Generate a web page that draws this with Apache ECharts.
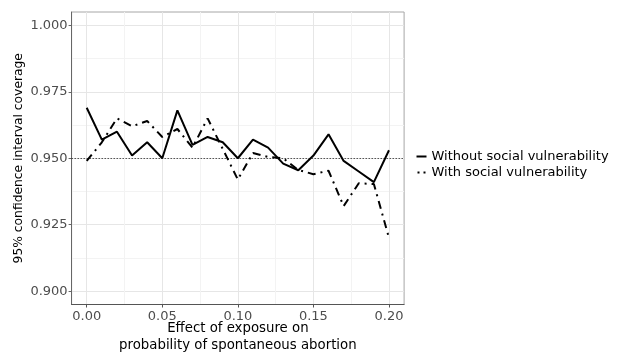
<!DOCTYPE html>
<html><head><meta charset="utf-8">
<script src="https://cdn.jsdelivr.net/npm/echarts@6/dist/echarts.min.js"></script>
<style>html,body{margin:0;padding:0;background:#fff}#c{width:619px;height:355px}</style>
</head><body><div id="c"></div>
<script>
const effect = [0.00,0.01,0.02,0.03,0.04,0.05,0.06,0.07,0.08,0.09,0.10,0.11,0.12,0.13,0.14,0.15,0.16,0.17,0.18,0.19,0.20];
const withoutSV = [0.969,0.957,0.960,0.951,0.956,0.950,0.968,0.955,0.958,0.956,0.950,0.957,0.954,0.948,0.9455,0.951,0.959,0.949,0.945,0.941,0.953];
const withSV = [0.949,0.956,0.965,0.962,0.964,0.958,0.961,0.954,0.965,0.9535,0.942,0.952,0.9505,0.950,0.9456,0.944,0.9453,0.932,0.9406,0.9403,0.920];
const xTicks = [0, 0.05, 0.10, 0.15, 0.20];
const xMinor = [0.025, 0.075, 0.125, 0.175];
const yTicks = [0.900, 0.925, 0.950, 0.975, 1.000];
const yMinor = [0.9125, 0.9375, 0.9625, 0.9875];
const reference = 0.95;
const names = ['Without social vulnerability', 'With social vulnerability'];

const font = 'DejaVu Sans';
const chart = echarts.init(document.getElementById('c'), null, {renderer: 'canvas'});
const pair = arr => effect.map((x, i) => [x, arr[i]]);

chart.setOption({
  animation: false,
  backgroundColor: '#fff',
  grid: {left: 71.6, right: 214.9, top: 12, bottom: 50.5, outerBoundsMode: 'none', containLabel: false,
         show: true, borderColor: '#a6a6a6', borderWidth: 1, backgroundColor: 'transparent'},
  legend: {
    orient: 'vertical', left: 416.5, top: 150, padding: 0, itemWidth: 10, itemHeight: 2, itemGap: 3,
    textStyle: {fontFamily: font, fontSize: 13, color: '#000', lineHeight: 13},
    data: [
      {name: names[0], icon: 'rect'},
      {name: names[1], icon: 'path://M0,0h2v2h-2z M6,0h2v2h-2z'}
    ]
  },
  xAxis: [
    {type: 'value', min: -0.01, max: 0.21, position: 'bottom',
     name: 'Effect of exposure on\nprobability of spontaneous abortion', nameLocation: 'middle', nameGap: 16,
     nameMoveOverlap: false,
     nameTextStyle: {fontFamily: font, fontSize: 13.3, color: '#000', lineHeight: 17},
     axisLine: {show: true, onZero: false, lineStyle: {color: '#555', width: 1}},
     axisTick: {show: true, length: 3, customValues: xTicks, lineStyle: {color: '#555'}},
     axisLabel: {customValues: xTicks, formatter: v => v.toFixed(2), color: '#4d4d4d', fontFamily: font, fontSize: 13, margin: 5.5},
     splitLine: {show: true, lineStyle: {color: '#e6e6e6', width: 1}}},
    {type: 'value', min: -0.01, max: 0.21, position: 'top',
     axisLine: {show: false, onZero: false}, axisTick: {show: false, customValues: xMinor},
     axisLabel: {show: false, customValues: xMinor},
     splitLine: {show: true, lineStyle: {color: '#f3f3f3', width: 1}}}
  ],
  yAxis: [
    {type: 'value', min: 0.895, max: 1.005, position: 'left',
     name: '95% confidence interval coverage', nameLocation: 'middle', nameGap: 47, nameRotate: 90,
     nameMoveOverlap: false,
     nameTextStyle: {fontFamily: font, fontSize: 12.3, color: '#000'},
     axisLine: {show: true, onZero: false, lineStyle: {color: '#666', width: 1}},
     axisTick: {show: true, length: 3, customValues: yTicks, lineStyle: {color: '#666'}},
     axisLabel: {customValues: yTicks, formatter: v => v.toFixed(3), color: '#4d4d4d', fontFamily: font, fontSize: 13, margin: 4},
     splitLine: {show: true, lineStyle: {color: '#e6e6e6', width: 1}}},
    {type: 'value', min: 0.895, max: 1.005, position: 'right',
     axisLine: {show: false, onZero: false}, axisTick: {show: false, customValues: yMinor},
     axisLabel: {show: false, customValues: yMinor},
     splitLine: {show: true, lineStyle: {color: '#f3f3f3', width: 1}}}
  ],
  series: [
    {name: names[0], type: 'line', data: pair(withoutSV), symbol: 'none', xAxisIndex: 0, yAxisIndex: 0,
     lineStyle: {color: '#000', width: 2, type: 'solid'}, itemStyle: {color: '#000'},
     markLine: {silent: true, symbol: 'none', label: {show: false},
       lineStyle: {color: '#000', width: 0.8, type: [1.2, 1.8]},
       data: [{yAxis: reference}]}},
    {name: names[1], type: 'line', data: pair(withSV), symbol: 'none', xAxisIndex: 0, yAxisIndex: 0,
     lineStyle: {color: '#000', width: 2, type: [8, 5, 2, 5]}, itemStyle: {color: '#000'}}
  ]
});
</script>
</body></html>
